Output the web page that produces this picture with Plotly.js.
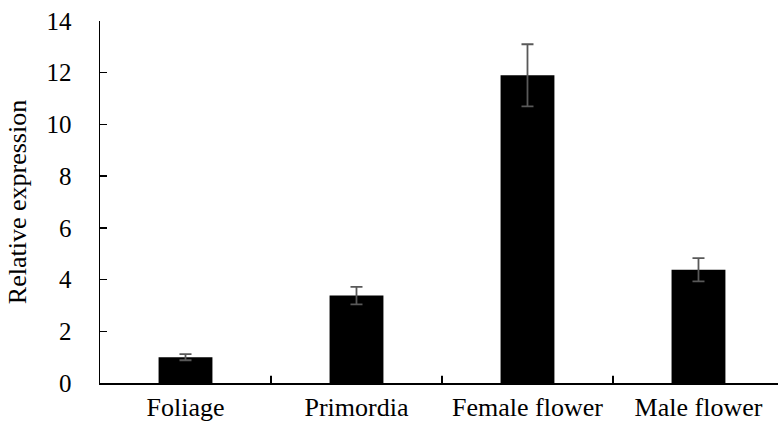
<!DOCTYPE html>
<html><head><meta charset="utf-8">
<script src="https://cdn.plot.ly/plotly-3.0.1.min.js"></script>
<style>html,body{margin:0;padding:0;background:#fff;overflow:hidden}</style>
</head><body>
<div id="chart" style="width:778px;height:421px"></div>
<script>
const categories = ["Foliage", "Primordia", "Female flower", "Male flower"];
const values = [1.0, 3.38, 11.9, 4.38];
const errors = [0.12, 0.34, 1.2, 0.45];
const yTicks = [0, 2, 4, 6, 8, 10, 12, 14];

const FONT = "Liberation Serif";

const trace = {
  type: "bar",
  x: categories,
  y: values,
  width: 0.315,
  marker: {color: "#000000", line: {color: "#000000", width: 0}},
  error_y: {type: "data", array: errors, visible: true, color: "#595959", thickness: 1.8, width: 6}
};

const layout = {
  width: 778, height: 421,
  margin: {l: 100, r: 0, t: 21, b: 38},
  paper_bgcolor: "#ffffff", plot_bgcolor: "#ffffff",
  showlegend: false,
  font: {family: FONT, color: "#000000", size: 26},
  xaxis: {
    type: "category",
    range: [-0.5, 3.465],
    showline: true, linecolor: "#000000", linewidth: 2,
    ticks: "inside", ticklen: 0,
    tickfont: {size: 26, family: FONT, color: "#000000"},
    ticklabelstandoff: 0,
    showgrid: false, zeroline: false, fixedrange: true
  },
  yaxis: {
    range: [0, 14],
    tickvals: yTicks,
    ticktext: yTicks.map(String),
    showline: true, linecolor: "#000000", linewidth: 1.5,
    ticks: "inside", ticklen: 7, tickwidth: 1.5, tickcolor: "#000000",
    tickfont: {size: 25, family: FONT, color: "#000000"},
    ticklabelstandoff: 22,
    showgrid: false, zeroline: false,
    title: {text: "Relative expression", font: {size: 26, family: FONT, color: "#000000"}, standoff: 12}
  },
  shapes: [1, 2, 3].map(i => ({
    type: "line", xref: "x", yref: "paper",
    x0: i - 0.5, x1: i - 0.5, y0: 0, y1: 0.02,
    line: {color: "#000000", width: 2}
  }))
};

Plotly.newPlot("chart", [trace], layout, {staticPlot: true, displayModeBar: false});
</script>
</body></html>
